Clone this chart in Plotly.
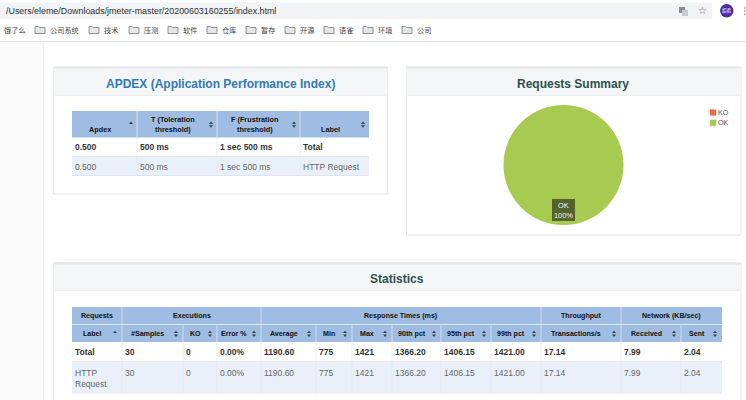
import plotly.graph_objects as go

URL = "/Users/eleme/Downloads/jmeter-master/20200603160255/index.html"
BOOKMARKS = ["公司系统", "技术", "压测", "软件", "仓库", "暂存", "开源", "语雀", "环境", "公司"]
BM_X = [35, 89, 129, 168, 207, 246, 285, 324, 363, 402]

PIE_LABELS = ["KO", "OK"]
PIE_VALUES = [0, 30]
PIE_COLORS = ["#F1684F", "#A7CB50"]

APDEX_HEAD = [["Apdex"], ["T (Toleration", "threshold)"], ["F (Frustration", "threshold)"], ["Label"]]
APDEX_ROWS = [["0.500", "500 ms", "1 sec 500 ms", "Total"],
              ["0.500", "500 ms", "1 sec 500 ms", "HTTP Request"]]
APDEX_COLS = [72, 137, 217, 300, 369]

STAT_GROUPS = [("Requests", 0, 1), ("Executions", 1, 4), ("Response Times (ms)", 4, 10),
               ("Throughput", 10, 11), ("Network (KB/sec)", 11, 13)]
STAT_HEAD = ["Label", "#Samples", "KO", "Error %", "Average", "Min", "Max", "90th pct", "95th pct",
             "99th pct", "Transactions/s", "Received", "Sent"]
STAT_TOTAL = ["Total", "30", "0", "0.00%", "1190.60", "775", "1421", "1366.20", "1406.15", "1421.00",
              "17.14", "7.99", "2.04"]
STAT_HTTP = ["HTTP<br>Request", "30", "0", "0.00%", "1190.60", "775", "1421", "1366.20", "1406.15",
             "1421.00", "17.14", "7.99", "2.04"]
STAT_COLS = [72, 122, 183, 217, 261, 316, 352, 392, 441, 491, 541, 621, 681, 722]

W, H = 746, 400
FONT = "Liberation Sans, Arial, sans-serif"
CJK = "Noto Sans CJK SC, sans-serif"
HEAD_BG = "#9FBDE2"
ALT_BG = "#EAF0F9"
LINE = "#E3E5E8"
PANEL_HEAD = "#F4F5F6"


def X(v):
    return v / W


def Y(v):
    return 1 - v / H


shapes = []
annotations = []


def rect(x0, y0, x1, y1, fill, line=None, width=1, layer="below"):
    shapes.append(dict(type="rect", xref="paper", yref="paper", x0=X(x0), x1=X(x1), y0=Y(y0), y1=Y(y1),
                       fillcolor=fill, line=dict(color=line or "rgba(0,0,0,0)", width=width if line else 0),
                       layer=layer))


def text(x, y, s, size=8.5, color="#333", bold=False, anchor="left", family=FONT, valign="middle"):
    annotations.append(dict(xref="paper", yref="paper", x=X(x), y=Y(y), text=f"<b>{s}</b>" if bold else s,
                            showarrow=False, xanchor=anchor, yanchor=valign, align=anchor,
                            font=dict(size=size, color=color, family=family), borderpad=0))


def path(points, fill, line=None, layer="below", width=1):
    d = "M " + " L ".join(f"{X(a):.5f},{Y(b):.5f}" for a, b in points) + " Z"
    shapes.append(dict(type="path", xref="paper", yref="paper", path=d, fillcolor=fill,
                       line=dict(color=line or "rgba(0,0,0,0)", width=width if line else 0), layer=layer))


def sort_icon(x, y, up_only=False):
    c = "#3A3F47"
    path([(x - 2, y - 0.6), (x + 2, y - 0.6), (x, y - 3)], c)
    if not up_only:
        path([(x - 2, y + 0.8), (x + 2, y + 0.8), (x, y + 3.2)], c)


def folder(x, y):
    path([(x, y - 3.5), (x + 3.5, y - 3.5), (x + 4.5, y - 2.5), (x + 10, y - 2.5), (x + 10, y + 3.5), (x, y + 3.5)],
         "#E4E5E6", "#77797C", width=0.8)


# browser chrome
rect(0, 0, W, 41, "#FFFFFF")
shapes.append(dict(type="rect", xref="paper", yref="paper", x0=X(-10), x1=X(712), y0=Y(2.5), y1=Y(19),
                   fillcolor="#F1F3F4", line=dict(width=0), layer="below"))
rect(0, 41, W, 42, "#E2E3E5")
text(5, 11, URL, size=8.9, color="#2E3033")
text(3, 30, "饿了么", size=7.2, color="#444", family=CJK)
for bx, name in zip(BM_X, BOOKMARKS):
    folder(bx, 30)
    text(bx + 14, 30, name, size=7.2, color="#444", family=CJK)
shapes.append(dict(type="circle", xref="paper", yref="paper", x0=X(720), x1=X(733.5), y0=Y(4), y1=Y(17.5),
                   fillcolor="#4B2FA8", line=dict(width=0), layer="below"))
text(726.7, 11, "绍君", size=4.5, color="#FFFFFF", anchor="center", family=CJK)
text(702.5, 11, "☆", size=10, color="#555", anchor="center", family="DejaVu Sans")
rect(679, 7, 685, 13, "#8A8D90")
rect(682, 10, 688, 16, "#C9CBCE")
for dy in (8, 11, 14):
    rect(744, dy - 0.6, 745.3, dy + 0.6, "#555")

# sidebar
rect(0, 42, 43, H, "#FAFAFA")
rect(43, 42, 44, H, "#F0F1F2")

# APDEX panel
rect(53.5, 67, 387.5, 194, "#FFFFFF", LINE)
rect(53.5, 67, 387.5, 96, PANEL_HEAD)
rect(53.5, 66.5, 387.5, 68.5, "#E6E8EB")
rect(53.5, 95.5, 387.5, 96, "#E8E9EB")
text(220.5, 84, "APDEX (Application Performance Index)", size=12, color="#337AB7", bold=True, anchor="center")
c = APDEX_COLS
rect(c[0], 111, c[-1], 137.5, HEAD_BG)
rect(c[0], 156.5, c[-1], 175.5, ALT_BG)
rect(c[0], 175, c[-1], 176, "#DFE4EA")
rect(c[0], 156, c[-1], 157, "#E3E6EA")
for i, head in enumerate(APDEX_HEAD):
    mid = (c[i] + c[i + 1]) / 2
    if len(head) == 1:
        text(mid - 4.5, 129, head[0], size=7.3, color="#111", bold=True, anchor="center")
    else:
        text(mid - 4, 119, head[0], size=7.3, color="#111", bold=True, anchor="center")
        text(mid - 4, 129, head[1], size=7.3, color="#111", bold=True, anchor="center")
    sort_icon(c[i + 1] - 6, 124.5, up_only=(i == 0))
    if i:
        rect(c[i] - 0.4, 111, c[i] + 0.4, 176, "#E4E8ED")
    for r, row in enumerate(APDEX_ROWS):
        text(c[i] + 1.8, 147 + r * 19.5, row[i], size=8.5, color="#333" if r == 0 else "#666", bold=(r == 0))

# Summary panel
rect(406.5, 67, 741, 235, "#FFFFFF", LINE)
rect(406.5, 67, 741, 96, PANEL_HEAD)
rect(406.5, 66.5, 741, 68.5, "#E6E8EB")
rect(406.5, 95.5, 741, 96, "#E8E9EB")
text(573, 84, "Requests Summary", size=12, color="#2F4F4F", bold=True, anchor="center")
for i, lab in enumerate(PIE_LABELS):
    yy = 112.5 + i * 10.4
    rect(708.5, yy - 4, 717, yy + 4, "#EEEEEE")
    rect(710, yy - 3, 716, yy + 3, PIE_COLORS[i])
    text(716.8, yy, lab, size=7.2, color="#555")
rect(552, 199, 575, 221, "#55622B", layer="above")
share = round(100 * PIE_VALUES[1] / sum(PIE_VALUES))
text(563.5, 210, f"{PIE_LABELS[1]}<br>{share}%", size=7.4, color="#F4F4F0", anchor="center")

# Statistics panel
rect(53.5, 263, 741, H + 5, "#FFFFFF", LINE)
rect(53.5, 263, 741, 291, PANEL_HEAD)
rect(53.5, 262.5, 741, 264.5, "#E6E8EB")
rect(53.5, 290.5, 741, 291, "#E8E9EB")
text(397, 279, "Statistics", size=12, color="#2F4F4F", bold=True, anchor="center")
s = STAT_COLS
rect(s[0], 307, s[-1], 342, HEAD_BG)
rect(s[0], 324, s[-1], 325, "#DCE7F5")
rect(s[0], 361, s[-1], 362.5, "#E3E6EA")
rect(s[0], 362.5, s[-1], 392.5, ALT_BG)
rect(s[0], 392.5, s[-1], 393.5, "#DFE4EA")
for name, a, b in STAT_GROUPS:
    text((s[a] + s[b]) / 2, 316, name, size=7.1, color="#111", bold=True, anchor="center")
    if a:
        rect(s[a] - 0.4, 307, s[a] + 0.4, 325, "#DCE7F5")
for i, head in enumerate(STAT_HEAD):
    mid = (s[i] + s[i + 1]) / 2
    text(mid - 5, 334, head, size=7.1, color="#111", bold=True, anchor="center")
    sort_icon(s[i + 1] - 7, 333.7, up_only=(i == 0))
    if i:
        rect(s[i] - 0.4, 325, s[i] + 0.4, 393.5, "#E3E7EC")
    text(s[i] + 1.8, 352, STAT_TOTAL[i], size=8.5, color="#333", bold=True)
    text(s[i] + 1.8, 367, STAT_HTTP[i], size=8.5, color="#666", valign="top")

fig = go.Figure(go.Pie(labels=PIE_LABELS, values=PIE_VALUES, sort=False, direction="clockwise",
                       marker=dict(colors=PIE_COLORS, line=dict(width=0)), textinfo="none",
                       hoverinfo="label+percent", showlegend=False,
                       domain=dict(x=[X(503.5), X(623.5)], y=[Y(225), Y(105)])))
fig.update_layout(width=W, height=H, margin=dict(l=0, r=0, t=0, b=0), paper_bgcolor="#FFFFFF",
                  showlegend=False, shapes=shapes, annotations=annotations, font=dict(family=FONT))
fig.write_html("out.html", post_script="document.body.style.margin='0';",
               config=dict(displayModeBar=False))
